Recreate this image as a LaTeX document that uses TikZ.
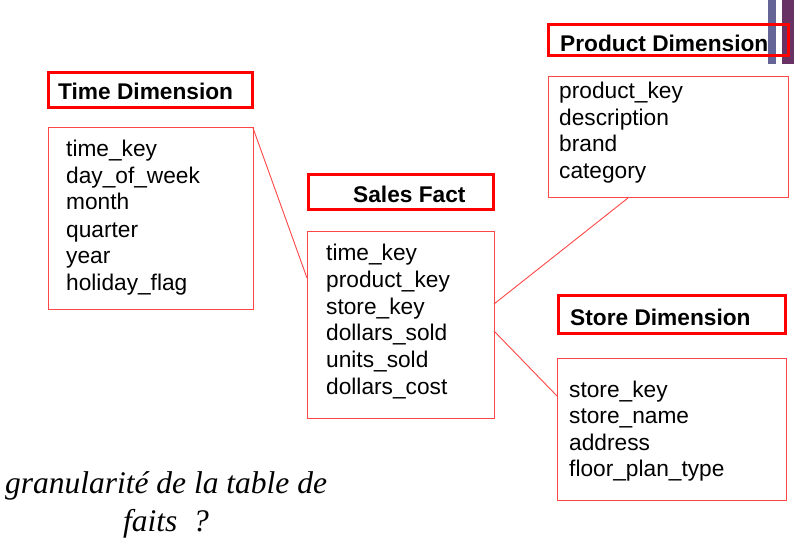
\documentclass[tikz,border=0pt]{standalone}
\usepackage{fontspec}
\setmainfont{Liberation Sans}
\newfontfamily\gransf{Liberation Serif}
\definecolor{thinred}{RGB}{255,70,70}
\definecolor{barA}{RGB}{100,100,150}
\definecolor{barB}{RGB}{105,50,100}
\tikzset{
  titlebox/.style={draw=red, line width=3pt, inner sep=0, outer sep=0, anchor=north west},
  bodybox/.style={draw=thinred, line width=1pt, inner sep=0, outer sep=0, anchor=north west},
  fld/.style={anchor=base west, inner sep=0, font=\fontsize{22.7}{27}\selectfont},
  ttl/.style={anchor=base west, inner sep=0, font=\fontsize{22.7}{27}\selectfont\bfseries},
  qtext/.style={anchor=base, inner sep=0, font=\gransf\itshape\fontsize{31.5}{38}\selectfont},
  conn/.style={draw=thinred, line width=0.9pt}
}
\begin{document}
\begin{tikzpicture}[x=1pt,y=-1pt]
\useasboundingbox (0,0) rectangle (794,545);
% decorative bars
\fill[barA] (768,0) rectangle (776,64);
\fill[barB] (782,0) rectangle (794,64);

% Time dimension
\node[titlebox, minimum width=204pt, minimum height=35pt] (tt) at (48.5,72.5) {};
\node[ttl] (ttx) at (58,100) {Time Dimension};
\node[bodybox, minimum width=205pt, minimum height=181pt] (tb) at (48,128) {};
\node[fld] (t1) at (66,157) {time\_key};
\node[fld] (t2) at (66,183.5) {day\_of\_week};
\node[fld] (t3) at (66,210) {month};
\node[fld] (t4) at (66,237) {quarter};
\node[fld] (t5) at (66,263) {year};
\node[fld] (t6) at (66,290) {holiday\_flag};

% Sales fact
\node[titlebox, minimum width=185pt, minimum height=35pt] (st) at (308.5,174.5) {};
\node[ttl] (stx) at (353,203) {Sales Fact};
\node[bodybox, minimum width=187pt, minimum height=187pt] (sb) at (307,231) {};
\node[fld] (s1) at (326,260) {time\_key};
\node[fld] (s2) at (326,287) {product\_key};
\node[fld] (s3) at (326,314) {store\_key};
\node[fld] (s4) at (326,340.5) {dollars\_sold};
\node[fld] (s5) at (326,367) {units\_sold};
\node[fld] (s6) at (326,394) {dollars\_cost};

% Product dimension
\node[titlebox, minimum width=240pt, minimum height=31pt] (pt) at (548.5,24.5) {};
\node[ttl] (ptx) at (560,52) {Product Dimension};
\node[bodybox, minimum width=240pt, minimum height=121pt] (pb) at (548,77) {};
\node[fld] (p1) at (559,99) {product\_key};
\node[fld] (p2) at (559,126) {description};
\node[fld] (p3) at (559,152) {brand};
\node[fld] (p4) at (559,179) {category};

% Store dimension
\node[titlebox, minimum width=227pt, minimum height=38pt] (dt) at (558.5,295.5) {};
\node[ttl] (dtx) at (570,325) {Store Dimension};
\node[bodybox, minimum width=229pt, minimum height=142pt] (db) at (557,358) {};
\node[fld] (d1) at (569,397) {store\_key};
\node[fld] (d2) at (569,423) {store\_name};
\node[fld] (d3) at (569,450) {address};
\node[fld] (d4) at (569,476) {floor\_plan\_type};

% connectors
\draw[conn] (tb.north east) -- ([yshift=46.5pt]sb.west);
\draw[conn] ([yshift=20.5pt]sb.east) -- ([xshift=-40pt]pb.south);
\draw[conn] ([yshift=-6.5pt]sb.east) -- ([yshift=33pt]db.west);

% question
\node[qtext] (q1) at (166,493) {granularité de la table de};
\node[qtext] (q2) at (166,531) {faits \ ?};
\end{tikzpicture}
\end{document}
